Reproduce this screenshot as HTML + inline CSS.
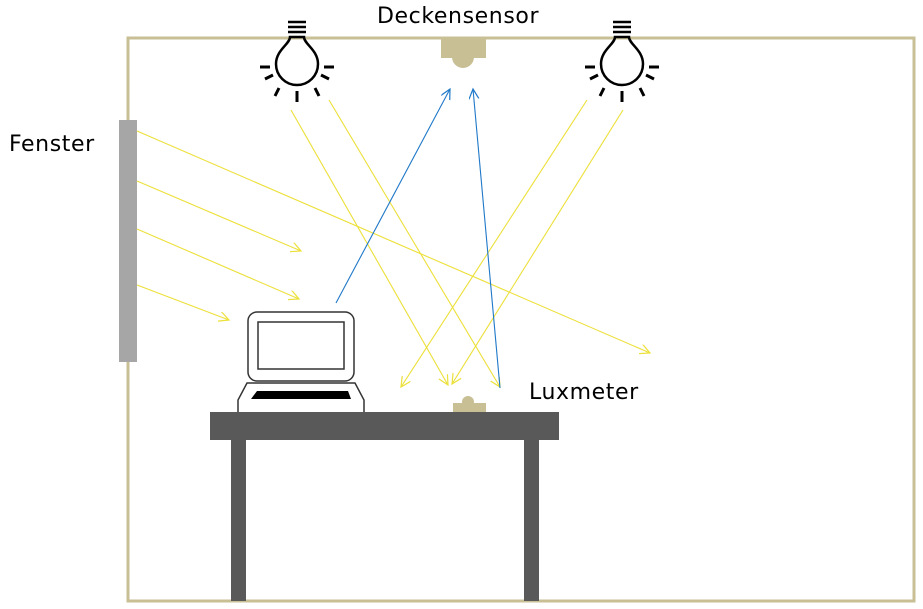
<!DOCTYPE html>
<html><head><style>body{margin:0;background:#fff}svg{display:block}text{font-family:"DejaVu Sans","Liberation Sans",sans-serif;font-size:22px;letter-spacing:0.6px;fill:#000}</style></head>
<body>
<svg width="923" height="609" viewBox="0 0 923 609" xmlns="http://www.w3.org/2000/svg">
<defs>
<marker id="ay" markerWidth="12" markerHeight="12" refX="10" refY="5" orient="auto" markerUnits="userSpaceOnUse"><path d="M0,0 L10,5 L0,10" fill="none" stroke="#ece03a" stroke-width="1.2"/></marker>
<marker id="ab" markerWidth="12" markerHeight="12" refX="10" refY="5" orient="auto" markerUnits="userSpaceOnUse"><path d="M0,0 L10,5 L0,10" fill="none" stroke="#1f78c8" stroke-width="1.2"/></marker>
<g id="bulb" fill="none" stroke="#000" stroke-width="3">
<path d="M-9,22 H9 M-9,27 H9 M-9,32 H9" stroke-width="2.5"/>
<path d="M-7,37 C-7,44 -21,50 -21,64 A21,21 0 0 0 21,64 C21,50 7,44 7,37 Z" stroke-width="2.5"/>
<path d="M-37,67 H-27 M27,67 H37 M-32,79 L-24,75 M24,75 L32,79 M-18,88 L-22,96 M18,88 L22,96 M0,91 V102"/>
</g>
</defs>
<rect x="128" y="38" width="786" height="563" fill="none" stroke="#c8bf94" stroke-width="3"/>
<rect x="119" y="120" width="18" height="242" fill="#a6a6a6"/>
<path d="M441,38 H486 V58 H441 Z" fill="#c8bf94"/>
<circle cx="463" cy="57" r="11" fill="#c8bf94"/>
<use href="#bulb" x="297" y="0"/>
<use href="#bulb" x="622" y="0"/>
<g stroke="#ece03a" stroke-width="1.1" fill="none" marker-end="url(#ay)">
<line x1="137" y1="131" x2="650" y2="353"/>
<line x1="137" y1="181" x2="301" y2="251"/>
<line x1="137" y1="229" x2="299" y2="299"/>
<line x1="137" y1="285" x2="229" y2="320"/>
<line x1="291" y1="110" x2="448" y2="385"/>
<line x1="329" y1="100" x2="500" y2="387"/>
<line x1="587" y1="100" x2="401" y2="387"/>
<line x1="623" y1="110" x2="452" y2="384"/>
</g>
<g stroke="#1f78c8" stroke-width="1.1" fill="none" marker-end="url(#ab)">
<line x1="336" y1="303" x2="450" y2="89"/>
<line x1="500" y1="388" x2="473" y2="89"/>
</g>
<rect x="248" y="312" width="106" height="69" rx="9" fill="#fff" stroke="#333" stroke-width="1.5"/>
<rect x="258" y="322" width="86" height="47" fill="#fff" stroke="#333" stroke-width="1.5"/>
<path d="M238,413 H364 V400 L355,383 H247 L238,400 Z" fill="#fff" stroke="#333" stroke-width="1.5"/>
<path d="M251,399 L257,391 H348 L351,399 Z" fill="#000"/>
<rect x="453" y="403" width="33" height="10" fill="#c8bf94"/>
<circle cx="468" cy="402" r="6" fill="#c8bf94"/>
<rect x="210" y="412" width="349" height="28" fill="#595959"/>
<rect x="231" y="440" width="15" height="161" fill="#595959"/>
<rect x="524" y="440" width="15" height="161" fill="#595959"/>
<text x="377" y="23">Deckensensor</text>
<text x="9" y="151">Fenster</text>
<text x="529" y="399">Luxmeter</text>
</svg>
</body></html>
